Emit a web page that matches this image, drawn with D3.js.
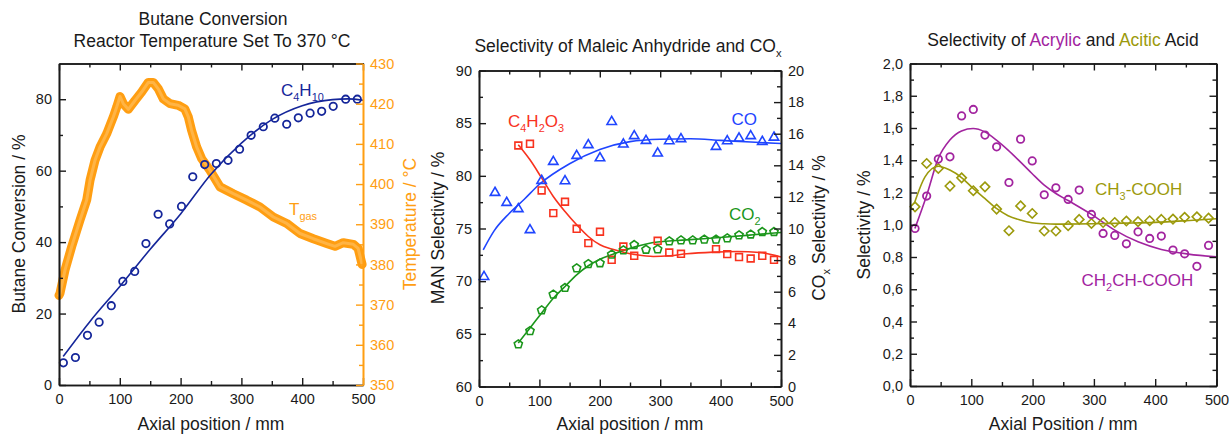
<!DOCTYPE html>
<html>
  <head>
    <meta charset="UTF-8" />
    <style>
      body {
        margin: 0;
        background: #fff;
      }
      svg text {
        font-family: "Liberation Sans", Arial, sans-serif;
      }
    </style>
  </head>
  <body>
    <svg></svg>
    <script src="https://d3js.org/d3.v7.min.js"></script>
    <script>
      // ---- data ----
      // panel 1: butane conversion (left) and gas temperature (right)
      let c4Pos = [7.2, 27, 46.8, 66, 86, 105, 124.5, 143, 163, 182, 201.5, 220, 239.6, 258.8, 278, 297, 316, 336, 355, 374.5, 393.6, 413, 432, 451, 471.5, 490.6];
      let c4Conv = [6.2, 7.7, 13.9, 17.6, 22.2, 29.0, 31.8, 39.6, 47.8, 45.1, 50.0, 58.3, 61.7, 62.0, 62.9, 66.0, 69.9, 72.3, 74.7, 73.0, 74.8, 76.1, 76.6, 78.0, 80.0, 80.0];
      let c4FitPos = [7, 50, 100, 150, 200, 250, 300, 350, 400, 450, 475, 500];
      let c4FitConv = [8.0, 17.6, 27.6, 38.0, 47.9, 59.0, 67.7, 74.3, 78.2, 79.9, 80.1, 79.7];
      let tgasPos = [0, 1.6, 9.9, 20.8, 34.5, 45.5, 51, 59.2, 67.4, 78.4, 89.3, 94.8, 100.3, 105.8, 114, 125, 136, 146.9, 155, 163.3, 171.6, 182.6, 196, 207, 212.7, 218, 226.5, 234.7, 248.4, 264.8, 286.7, 308.7, 330.6, 352.5, 374.5, 396.4, 418.3, 440.3, 454, 467.6, 484, 492, 498.5];
      let tgasTemp = [372.3, 372.8, 378.6, 384.4, 391, 396, 400.9, 405.9, 409.2, 412.5, 416.7, 419.1, 421.8, 420, 418.6, 420.8, 422.9, 425.3, 425.3, 423.7, 421.2, 420, 419.6, 418.7, 416.7, 413.4, 409.2, 406.3, 403.4, 399.3, 397.6, 396, 394.3, 391.8, 390.2, 387.7, 386.4, 385.2, 384.5, 385.4, 385, 384, 380];

      // panel 2: MAN (left axis), CO and CO2 (right axis)
      let coPos = [8.3, 26.5, 45.8, 65.1, 84.4, 103.7, 123, 142.4, 161.7, 181, 200.3, 219.7, 239, 257, 276.5, 295.8, 315, 334.4, 392.4, 411, 430.5, 449.8, 469, 488.4];
      let coSel = [6.96, 12.28, 11.65, 11.25, 9.92, 13.04, 14.24, 13.02, 14.62, 15.3, 14.47, 16.77, 15.34, 15.87, 15.57, 14.77, 15.55, 15.68, 15.19, 15.55, 15.72, 15.87, 15.51, 15.78];
      let coFitPos = [7, 25, 50, 75, 100, 150, 200, 250, 300, 350, 400, 450, 500];
      let coFitSel = [8.65, 9.85, 10.95, 11.85, 12.8, 14.1, 15.0, 15.5, 15.65, 15.68, 15.58, 15.47, 15.38];
      let manPos = [65.1, 84.4, 103.7, 123, 142.4, 161.7, 181, 200.3, 219.7, 239, 257, 295.8, 315, 334.4, 392.4, 411, 430.5, 449.8, 469, 488.4];
      let manSel = [82.88, 83.04, 78.61, 76.46, 77.54, 74.97, 73.61, 74.69, 72.03, 73.29, 72.41, 73.83, 72.72, 72.6, 73.04, 72.57, 72.29, 72.15, 72.41, 72.03];
      let manFitPos = [65, 84.4, 103.7, 123, 142.4, 161.7, 181, 200.3, 219.7, 239, 261, 288.6, 316, 344, 388, 427, 465, 500];
      let manFitSel = [82.95, 81.52, 79.8, 78.04, 76.61, 75.35, 74.24, 73.45, 73.05, 72.75, 72.5, 72.34, 72.41, 72.6, 72.76, 72.82, 72.72, 72.3];
      let co2Pos = [65.1, 84.4, 103.7, 123, 142.4, 161.7, 181, 200.3, 219.7, 239, 257, 276.5, 295.8, 315, 334.4, 353.8, 373, 392.4, 411, 430.5, 449.8, 469, 488.4];
      let co2Sel = [2.7, 3.54, 4.85, 5.85, 6.27, 7.51, 7.78, 7.83, 8.38, 8.65, 8.99, 8.69, 8.71, 9.22, 9.28, 9.28, 9.33, 9.33, 9.41, 9.6, 9.65, 9.81, 9.81];
      let co2FitPos = [65, 84.4, 103.7, 123, 142.4, 161.7, 181, 200.3, 219.7, 239, 257, 288.6, 344, 399, 454, 500];
      let co2FitSel = [2.75, 3.7, 4.65, 5.59, 6.33, 7.07, 7.64, 8.06, 8.34, 8.61, 8.82, 9.11, 9.28, 9.43, 9.6, 9.75];

      // panel 3: acrylic and acetic acid
      let acidPos = [8.2, 27.2, 46.2, 65.2, 84.2, 103.3, 122.3, 141.3, 161.4, 180.4, 199.4, 219, 238, 258, 276, 296, 315, 334, 353, 372, 391, 410, 429, 448, 468, 487];
      let acrylicSel = [0.977, 1.178, 1.407, 1.421, 1.675, 1.715, 1.556, 1.483, 1.262, 1.531, 1.396, 1.186, 1.229, 1.157, 1.215, 1.064, 0.946, 0.934, 0.882, 0.956, 0.915, 0.93, 0.843, 0.82, 0.742, 0.872];
      let aceticSel = [1.111, 1.38, 1.349, 1.24, 1.291, 1.211, 1.235, 1.097, 0.963, 1.117, 1.07, 0.961, 0.961, 0.994, 1.033, 1.008, 1.014, 1.014, 1.023, 1.019, 1.025, 1.033, 1.035, 1.046, 1.049, 1.041];
      let acrylicFitPos = [8, 27, 46, 65, 84, 103, 122, 141, 160, 180, 199, 219, 238, 258, 296, 334, 372, 410, 454, 500];
      let acrylicFitSel = [0.977, 1.18, 1.41, 1.525, 1.582, 1.597, 1.576, 1.525, 1.463, 1.39, 1.318, 1.246, 1.194, 1.15, 1.064, 0.967, 0.894, 0.847, 0.818, 0.801];
      let aceticFitPos = [7, 24.5, 46, 65, 84, 103, 122, 141, 160, 180, 199, 219, 238, 300, 350, 400, 450, 500];
      let aceticFitSel = [1.132, 1.297, 1.363, 1.339, 1.293, 1.225, 1.163, 1.101, 1.056, 1.029, 1.012, 1.006, 1.004, 1.006, 1.01, 1.015, 1.025, 1.037];

      let width = 1229,
        height = 434;

      let svg = d3
        .select("svg")
        .attr("width", width)
        .attr("height", height)
        .attr("viewBox", "0 0 " + width + " " + height);

      svg.append("rect").attr("width", width).attr("height", height).attr("fill", "#fff");

      //Colours
      let navy = "#15269a",
        orange = "#ff9e12",
        blue = "#1f45ff",
        red = "#f8321e",
        green = "#1b961b",
        purple = "#a2249f",
        olive = "#9c9a0c",
        ink = "#1a1a1a";

      let titleSize = 17.5,
        tickSize = 14.5;

      let zip = (a, b) => a.map((v, i) => [v, b[i]]);

      //Symbols
      let shapes = {
        triangle: "M0,-5.2L4.7,2.9L-4.7,2.9Z",
        square: "M-3.4,-3.4H3.4V3.4H-3.4Z",
        diamond: "M0,-4.7L4.7,0L0,4.7L-4.7,0Z",
        pentagon: d3
          .range(5)
          .map((i) => {
            let a = -Math.PI / 2 + (i * 2 * Math.PI) / 5;
            return (i ? "L" : "M") + (4.3 * Math.cos(a)).toFixed(2) + "," + (4.3 * Math.sin(a) + 0.4).toFixed(2);
          })
          .join("") + "Z",
      };

      // text with subscripts: parts = [[text, sub, colour], ...]
      function rich(sel, parts, size) {
        let shifted = false;
        parts.forEach((p) => {
          let t = sel.append("tspan").text(p[0]);
          if (p[1]) {
            t.attr("font-size", size * 0.64).attr("dy", shifted ? 0 : size * 0.3);
            shifted = true;
          } else if (shifted) {
            t.attr("dy", -size * 0.3);
            shifted = false;
          }
          if (p[2]) t.attr("fill", p[2]);
        });
        return sel;
      }

      function styleAxis(g, colour) {
        g.select(".domain").attr("stroke", colour).attr("stroke-width", 1.6);
        g.selectAll(".tick line").attr("stroke", colour).attr("stroke-width", 1.4);
        g.selectAll(".tick text").attr("fill", colour).attr("font-size", tickSize).attr("font-family", "Liberation Sans, Arial, sans-serif");
      }

      // axis box with inward ticks
      function frame(x, y, o) {
        let g = svg.append("g");
        let [x0, x1] = x.range();
        let [y0, y1] = y.range();
        let xMaj = d3.range(0, 501, 100),
          xMin = d3.range(50, 500, 100);

        let addAxis = (axis, tx, ty, ticks, size, fmt, colour, pad) => {
          let a = g
            .append("g")
            .attr("transform", "translate(" + tx + "," + ty + ")")
            .call(axis.tickValues(ticks).tickSize(-size).tickSizeOuter(0).tickPadding(pad || 8).tickFormat(fmt));
          styleAxis(a, colour);
          return a;
        };

        addAxis(d3.axisBottom(x), 0, y0, xMin, 4, "", ink);
        addAxis(d3.axisBottom(x), 0, y0, xMaj, 7, d3.format("d"), ink, 9);
        addAxis(d3.axisTop(x), 0, y1, xMin, 4, "", ink);
        addAxis(d3.axisTop(x), 0, y1, xMaj, 7, "", ink);
        addAxis(d3.axisLeft(y), x0, 0, o.yMin, 4, "", ink);
        addAxis(d3.axisLeft(y), x0, 0, o.yMaj, 7, o.yFmt, ink, 7);

        let y2 = o.y2 || y;
        let c2 = o.y2Colour || ink;
        addAxis(d3.axisRight(y2), x1, 0, o.y2 ? o.y2Min : o.yMin, 4, "", c2);
        addAxis(d3.axisRight(y2), x1, 0, o.y2 ? o.y2Maj : o.yMaj, 7, o.y2 ? o.y2Fmt : "", c2, 7);

        // x title
        svg
          .append("text")
          .attr("x", (x0 + x1) / 2)
          .attr("y", 430)
          .attr("text-anchor", "middle")
          .attr("font-size", titleSize)
          .attr("fill", ink)
          .text(o.xTitle);
        return g;
      }

      function yTitle(xPos, yMid, parts, colour) {
        let t = svg
          .append("text")
          .attr("transform", "translate(" + xPos + "," + yMid + ") rotate(-90)")
          .attr("text-anchor", "middle")
          .attr("font-size", titleSize)
          .attr("fill", colour || ink);
        rich(t, parts, titleSize);
      }

      function label(xPos, yPos, parts, colour, size) {
        let t = svg
          .append("text")
          .attr("x", xPos)
          .attr("y", yPos)
          .attr("font-size", size || 17)
          .attr("fill", colour);
        rich(t, parts, size || 17);
      }

      let line = (x, y) =>
        d3
          .line()
          .x((d) => x(d[0]))
          .y((d) => y(d[1]))
          .curve(d3.curveMonotoneX);

      function fitLine(x, y, pts, colour) {
        svg
          .append("path")
          .datum(pts)
          .attr("fill", "none")
          .attr("stroke", colour)
          .attr("stroke-width", 1.6)
          .attr("d", line(x, y));
      }

      function markers(x, y, pts, colour, shape) {
        let g = svg.append("g");
        if (shape == "circle") {
          g.selectAll("circle")
            .data(pts)
            .enter()
            .append("circle")
            .attr("cx", (d) => x(d[0]))
            .attr("cy", (d) => y(d[1]))
            .attr("r", 3.7)
            .attr("fill", "none")
            .attr("stroke", colour)
            .attr("stroke-width", 1.8);
        } else {
          g.selectAll("path")
            .data(pts)
            .enter()
            .append("path")
            .attr("d", shapes[shape])
            .attr("transform", (d) => "translate(" + x(d[0]) + "," + y(d[1]) + ")")
            .attr("fill", "none")
            .attr("stroke", colour)
            .attr("stroke-width", 1.6)
            .attr("stroke-linejoin", "miter");
        }
      }

      //Panel 1
      let x1 = d3.scaleLinear().domain([0, 500]).range([59, 363]);
      let y1 = d3.scaleLinear().domain([0, 90]).range([385, 63.5]);
      let t1 = d3.scaleLinear().domain([350, 430]).range([385, 63.5]);

      // gas temperature drawn as a dense band of points
      let tgasLine = line(x1, t1).curve(d3.curveLinear);
      svg
        .append("path")
        .datum(zip(tgasPos, tgasTemp))
        .attr("fill", "none")
        .attr("stroke", orange)
        .attr("stroke-width", 9)
        .attr("stroke-linejoin", "round")
        .attr("stroke-linecap", "round")
        .attr("d", tgasLine);
      svg
        .append("path")
        .datum(zip(tgasPos, tgasTemp))
        .attr("fill", "none")
        .attr("stroke", "#ffb445")
        .attr("stroke-width", 3)
        .attr("stroke-linejoin", "round")
        .attr("stroke-linecap", "round")
        .attr("d", tgasLine);

      fitLine(x1, y1, zip(c4FitPos, c4FitConv), navy);
      markers(x1, y1, zip(c4Pos, c4Conv), navy, "circle");

      frame(x1, y1, {
        yMaj: d3.range(0, 81, 20),
        yMin: d3.range(10, 90, 20),
        yFmt: d3.format("d"),
        y2: t1,
        y2Maj: d3.range(350, 431, 10),
        y2Min: d3.range(355, 430, 10),
        y2Fmt: d3.format("d"),
        y2Colour: orange,
        xTitle: "Axial position / mm",
      });
      yTitle(25, 224, [["Butane Conversion / %"]]);
      yTitle(416, 224, [["Temperature / °C"]], orange);

      svg.append("text").attr("x", 213).attr("y", 25).attr("text-anchor", "middle").attr("font-size", titleSize).attr("fill", ink).text("Butane Conversion");
      svg.append("text").attr("x", 212).attr("y", 46.5).attr("text-anchor", "middle").attr("font-size", titleSize).attr("fill", ink).text("Reactor Temperature Set To 370 °C");

      label(281, 96, [["C"], ["4", 1], ["H"], ["10", 1]], navy);
      label(289, 215, [["T"], ["gas", 1]], orange);

      //Panel 2
      let x2 = d3.scaleLinear().domain([0, 500]).range([479, 781]);
      let y2 = d3.scaleLinear().domain([60, 90]).range([386.5, 70.5]);
      let r2 = d3.scaleLinear().domain([0, 20]).range([386.5, 70.5]);

      fitLine(x2, r2, zip(coFitPos, coFitSel), blue);
      fitLine(x2, y2, zip(manFitPos, manFitSel), red);
      fitLine(x2, r2, zip(co2FitPos, co2FitSel), green);
      markers(x2, r2, zip(coPos, coSel), blue, "triangle");
      markers(x2, y2, zip(manPos, manSel), red, "square");
      markers(x2, r2, zip(co2Pos, co2Sel), green, "pentagon");

      frame(x2, y2, {
        yMaj: d3.range(60, 91, 5),
        yMin: d3.range(62.5, 90, 5),
        yFmt: d3.format("d"),
        y2: r2,
        y2Maj: d3.range(0, 21, 2),
        y2Min: d3.range(1, 20, 2),
        y2Fmt: d3.format("d"),
        xTitle: "Axial position / mm",
      });
      yTitle(444, 228, [["MAN Selectivity / %"]]);
      yTitle(825, 228, [["CO"], ["x", 1], [" Selectivity / %"]]);

      let title2 = svg.append("text").attr("x", 628).attr("y", 52).attr("text-anchor", "middle").attr("font-size", titleSize).attr("fill", ink);
      rich(title2, [["Selectivity of Maleic Anhydride and CO"], ["x", 1]], titleSize);

      label(508, 126.5, [["C"], ["4", 1], ["H"], ["2", 1], ["O"], ["3", 1]], red);
      label(731.5, 125, [["CO"]], blue);
      label(729, 220, [["CO"], ["2", 1]], green);

      //Panel 3
      let x3 = d3.scaleLinear().domain([0, 500]).range([910, 1216.5]);
      let y3 = d3.scaleLinear().domain([0, 2]).range([386, 63.5]);
      let comma = (d) => d3.format(".1f")(d).replace(".", ",");

      fitLine(x3, y3, zip(acrylicFitPos, acrylicFitSel), purple);
      fitLine(x3, y3, zip(aceticFitPos, aceticFitSel), olive);
      markers(x3, y3, zip(acidPos, aceticSel), olive, "diamond");
      markers(x3, y3, zip(acidPos, acrylicSel), purple, "circle");

      frame(x3, y3, {
        yMaj: d3.range(0, 11).map((i) => i * 0.2),
        yMin: d3.range(0, 10).map((i) => i * 0.2 + 0.1),
        yFmt: comma,
        xTitle: "Axial Position / mm",
      });
      yTitle(869.5, 225, [["Selectivity / %"]]);

      let title3 = svg.append("text").attr("x", 1063).attr("y", 45.5).attr("text-anchor", "middle").attr("font-size", titleSize).attr("fill", ink);
      rich(title3, [["Selectivity of "], ["Acrylic", 0, purple], [" and "], ["Acitic", 0, olive], [" Acid"]], titleSize);

      label(1095, 195, [["CH"], ["3", 1], ["-COOH"]], olive);
      label(1081.5, 285.5, [["CH"], ["2", 1], ["CH-COOH"]], purple);
    </script>
  </body>
</html>
